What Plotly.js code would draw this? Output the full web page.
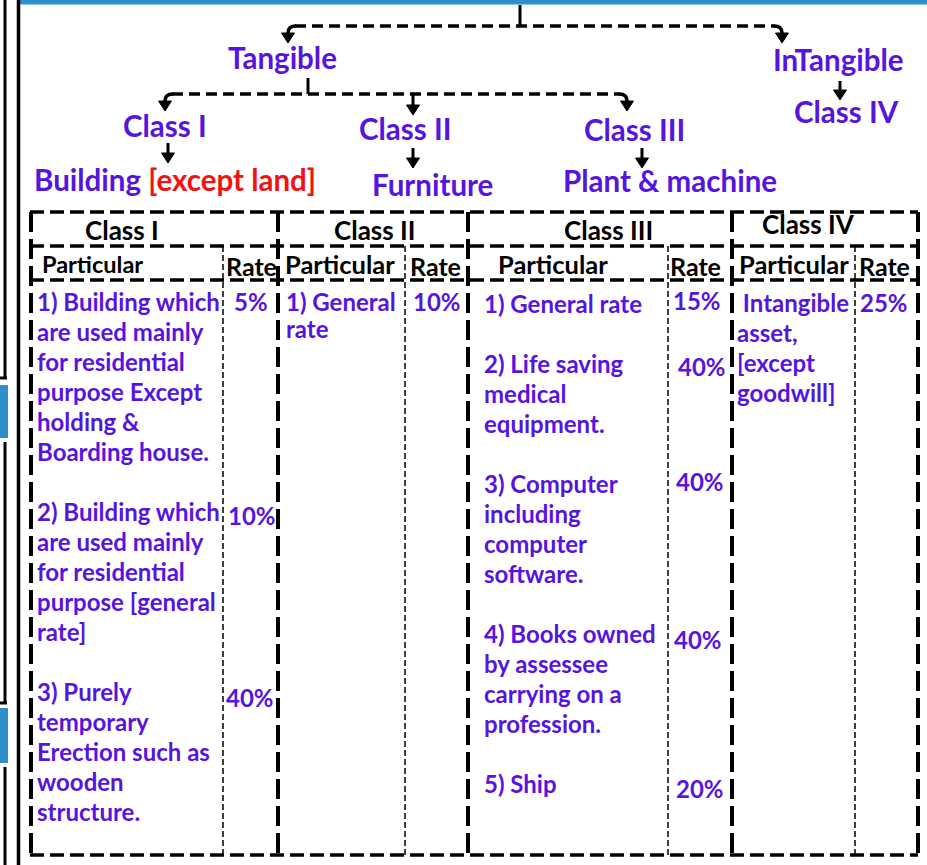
<!DOCTYPE html>
<html>
<head>
<meta charset="utf-8">
<script src="https://cdn.plot.ly/plotly-3.0.1.min.js"></script>
<style>html,body{margin:0;padding:0;background:#fff;}#chart{width:927px;height:865px;}</style>
</head>
<body>
<div id="chart"></div>
<script>
// ---------- DATA ----------
const rootLabels = ['Tangible', 'InTangible'];
const tangibleClasses = ['Class I', 'Class II', 'Class III'];
const classAssets = ['Building', 'Furniture', 'Plant & machine'];
const buildingNote = '[except land]';
const intangibleClass = 'Class IV';
const tableClasses = ['Class I', 'Class II', 'Class III', 'Class IV'];
const colHeads = ['Particular', 'Rate'];
const class1Items = [
  ['1) Building which', 'are used mainly', 'for residential', 'purpose Except', 'holding &', 'Boarding house.'],
  ['2) Building which', 'are used mainly', 'for residential', 'purpose [general', 'rate]'],
  ['3) Purely', 'temporary', 'Erection such as', 'wooden', 'structure.']
];
const class1Rates = ['5%', '10%', '40%'];
const class2Items = [['1) General', 'rate']];
const class2Rates = ['10%'];
const class3Items = [
  ['1) General rate'],
  ['2) Life saving', 'medical', 'equipment.'],
  ['3) Computer', 'including', 'computer', 'software.'],
  ['4) Books owned', 'by assessee', 'carrying on a', 'profession.'],
  ['5) Ship']
];
const class3Rates = ['15%', '40%', '40%', '40%', '20%'];
const class4Items = [[' Intangible', 'asset,', '[except', 'goodwill]']];
const class4Rates = ['25%'];

// ---------- STYLE / LAYOUT ----------
const PURPLE = '#5514e0';
const RED = '#f21212';
const BLACK = '#000000';
const BLUE = '#2f8fcc';
const FONT = 'Lato, "Open Sans", sans-serif';

const shapes = [];
const ann = [];

function line(x0, y0, x1, y1, w, dash, color) {
  shapes.push({type: 'line', xref: 'x', yref: 'y', x0, y0, x1, y1,
    line: {color: color || BLACK, width: w, dash: dash || 'solid'}});
}
function rect(x0, y0, x1, y1, color) {
  shapes.push({type: 'rect', xref: 'x', yref: 'y', x0, y0, x1, y1,
    fillcolor: color, line: {width: 0}});
}
function path(d, w, dash) {
  shapes.push({type: 'path', xref: 'x', yref: 'y', path: d,
    line: {color: BLACK, width: w, dash: dash || 'solid'}});
}
function head(x, tipY, h, wd) {
  shapes.push({type: 'path', xref: 'x', yref: 'y',
    path: `M ${x - wd / 2},${tipY - h} L ${x + wd / 2},${tipY - h} L ${x},${tipY} Z`,
    fillcolor: BLACK, line: {color: BLACK, width: 1}});
}
function arrow(x, y0, tipY) {
  line(x, y0, x, tipY - 8, 3);
  head(x, tipY, 10, 13);
}
function text(t, x, y, size, color, xanchor) {
  ann.push({text: '<b>' + t + '</b>', x, y, xref: 'x', yref: 'y', showarrow: false,
    xanchor: xanchor || 'center', yanchor: 'middle',
    font: {family: FONT, size, color}});
}

// page frame
rect(18, 0, 927, 4.5, BLUE);
rect(0, 385, 8, 438, BLUE);
rect(0, 708, 8, 763, BLUE);
line(5, 0, 5, 378, 3);
line(0, 378, 7, 378, 3);
line(5, 442, 5, 703, 3);
line(0, 703, 7, 703, 3);
line(5, 767, 5, 865, 3);
line(18.5, 0, 18.5, 865, 3.5);

// tree connectors
const TD = '11px,6px';
line(520, 5, 520, 26, 3);
line(295, 26, 775, 26, 3.5, TD);
path('M 296,26 Q 288,26 288,33', 3.5);
head(288, 43, 10, 13);
path('M 774,26 Q 782,26 782,33', 3.5);
head(782, 43, 10, 13);

line(308, 78, 308, 94, 3);
line(172, 94, 620, 94, 3.5, TD);
path('M 173,94 Q 165,94 165,101', 3.5);
head(165, 111, 10, 13);
path('M 619,94 Q 627,94 627,101', 3.5);
head(627, 111, 10, 13);
arrow(413, 94, 115);

arrow(840, 81, 100);
arrow(168, 143, 163);
arrow(413, 148, 168);
arrow(642, 148, 168);

// tree labels
const TOP = 29.5;
text(rootLabels[0], 282, 57, TOP, PURPLE);
text(rootLabels[1], 838, 59, TOP, PURPLE);
text(tangibleClasses[0], 165, 125, TOP, PURPLE);
text(tangibleClasses[1], 405, 128, TOP, PURPLE);
text(tangibleClasses[2], 634, 129, TOP, PURPLE);
text(intangibleClass, 846, 111, TOP, PURPLE);
ann.push({text: '<b>' + classAssets[0] + ' <span style="color:' + RED + '">' + buildingNote + '</span></b>',
  x: 32, y: 179, xref: 'x', yref: 'y', showarrow: false, xanchor: 'left', yanchor: 'middle',
  font: {family: FONT, size: TOP, color: PURPLE}});
text(classAssets[1], 432, 184, TOP, PURPLE);
text(classAssets[2], 670, 180, TOP, PURPLE);

// table grid
const HD = '14px,6px';
const VD = '20px,7px';
const TH = '6px,3px';
[212, 246, 280, 855].forEach(y => line(30, y, 918, y, 3.5, HD));
[31, 278, 468, 732, 918].forEach(x => line(x, 212, x, 855, 4, VD));
[223, 405, 668, 855].forEach(x => line(x, 246, x, 855, 1.5, TH));

// table headers
const headCx = [122, 374, 608, 808];
const headCy = [230, 230, 230, 224];
tableClasses.forEach((c, i) => text(c, headCx[i], headCy[i], 26, BLACK));
const partCx = [92, 340, 553, 794];
const rateCx = [251, 435, 695, 884];
partCx.forEach((x, i) => text(colHeads[0], x, 264, i === 0 ? 23.5 : 25.5, BLACK));
rateCx.forEach((x, i) => text(colHeads[1], x, 266, 25, BLACK));

// table body
const BODY = 24;
function column(items, rates, leftX, rateX, y0, step, rateDy) {
  let row = 0;
  items.forEach((lines, k) => {
    const yTop = y0 + row * step;
    lines.forEach((l, j) => {
      text(l.replace(/^ /, '\u00a0'), leftX, yTop + j * step, BODY, PURPLE, 'left');
    });
    text(rates[k], rateX[k], yTop + (rateDy ? rateDy[k] : 0), BODY, PURPLE);
    row += lines.length + 1;
  });
}
column(class1Items, class1Rates, 35, [251, 252, 250], 301, 30, [0, 4, 6]);
column(class2Items, class2Rates, 284, [437], 301, 27, [0]);
column(class3Items, class3Rates, 482, [697, 702, 700, 698, 700], 303, 30, [-3, 3, -2, 6, 5]);
column(class4Items, class4Rates, 735, [884], 302, 30, [0]);

const layout = {
  width: 927, height: 865,
  margin: {l: 0, r: 0, t: 0, b: 0, pad: 0},
  paper_bgcolor: '#ffffff', plot_bgcolor: '#ffffff',
  showlegend: false,
  xaxis: {range: [0, 927], visible: false, fixedrange: true},
  yaxis: {range: [865, 0], visible: false, fixedrange: true},
  shapes: shapes,
  annotations: ann
};
Plotly.newPlot('chart', [{type: 'scatter', x: [], y: [], hoverinfo: 'skip'}], layout,
  {staticPlot: true, displayModeBar: false});
</script>
</body>
</html>
